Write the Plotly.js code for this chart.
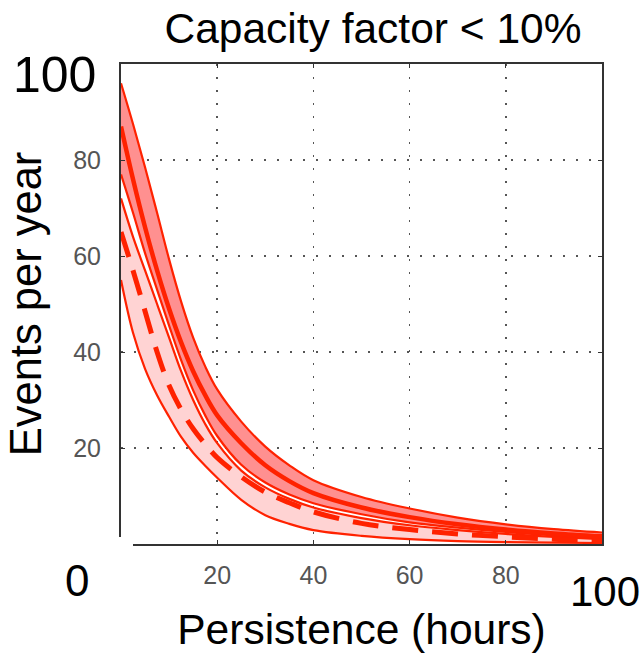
<!DOCTYPE html>
<html>
<head>
<meta charset="utf-8">
<script src="https://cdn.plot.ly/plotly-3.0.1.min.js"></script>
<style>html,body{margin:0;padding:0;background:#fff;}#chart{width:644px;height:654px;}</style>
</head>
<body>
<div id="chart"></div>
<script>
// Persistence (hours)
const persistence = [0, 2.5, 5, 7.5, 10, 12.5, 15, 17.5, 20, 25, 30, 35, 40, 50, 60, 70, 80, 90, 100];
// Upper band (darker fill) edges and solid centre line
const upperBandTop    = [96, 87.5, 78.5, 69, 59.3, 50.5, 43, 37, 32.2, 25.5, 20.3, 16.4, 13.3, 9.8, 7.4, 5.5, 4.1, 3.1, 2.4];
const solidLine       = [87, 76, 66, 57, 49, 42, 36, 31, 26.8, 21, 16.4, 13.1, 10.6, 7.6, 5.6, 4.1, 3.0, 2.2, 1.6];
const upperBandBottom = [77, 69, 60.6, 53, 45.5, 38.3, 32, 26.8, 22.5, 16.5, 12.8, 10.3, 8.5, 6.2, 4.5, 3.4, 2.5, 1.8, 1.2];
// Lower band (light fill) edges and dashed centre line
const lowerBandTop    = [72, 64, 57, 50, 43, 36, 30, 25, 21, 15.3, 11.8, 9.4, 7.6, 5.4, 3.9, 2.9, 2.1, 1.5, 1.0];
const dashedLine      = [65, 57, 48.5, 40, 33, 28, 24, 20.8, 18, 14, 10.8, 8.6, 6.7, 4.3, 3.0, 2.1, 1.5, 1.0, 0.7];
const lowerBandBottom = [55, 44, 36.5, 31, 26.5, 22.3, 19, 16.3, 13.8, 9.2, 6.0, 4.2, 2.9, 1.7, 1.0, 0.6, 0.4, 0.3, 0.2];
const tickValues = [20, 40, 60, 80];
const tickLabels = ['20', '40', '60', '80'];

const RED = '#ff2200';
const edge = {color: RED, width: 2.2, shape: 'spline', smoothing: 1};
const FONT = 'Liberation Sans, Arial, sans-serif';

const traces = [
  {x: persistence, y: lowerBandBottom, mode: 'lines', line: edge, hoverinfo: 'skip', showlegend: false},
  {x: persistence, y: lowerBandTop, mode: 'lines', line: edge, fill: 'tonexty', fillcolor: '#ffd3d3', hoverinfo: 'skip', showlegend: false},
  {x: persistence, y: upperBandBottom, mode: 'lines', line: edge, hoverinfo: 'skip', showlegend: false},
  {x: persistence, y: upperBandTop, mode: 'lines', line: edge, fill: 'tonexty', fillcolor: '#ff9090', hoverinfo: 'skip', showlegend: false},
  {x: persistence, y: dashedLine, mode: 'lines', line: {color: RED, width: 5, dash: '26px,14px', shape: 'spline', smoothing: 1}, showlegend: false},
  {x: persistence, y: solidLine, mode: 'lines', line: {color: RED, width: 4.5, shape: 'spline', smoothing: 1}, showlegend: false}
];

const L = 121, R = 602, T = 64, B = 544;
const px = v => (v - L) / (R - L);
const py = v => (B - v) / (B - T);
const bigFont = {family: FONT, size: 44, color: '#000'};

const axisCommon = {
  range: [0, 100],
  tickvals: tickValues,
  ticktext: tickLabels,
  showgrid: true,
  gridcolor: '#555',
  gridwidth: 1.6,
  griddash: '2px,11px',
  zeroline: false,
  showline: true,
  mirror: 'ticks',
  linecolor: '#333',
  linewidth: 2,
  ticks: 'inside',
  ticklen: 4,
  tickcolor: '#333',
  tickfont: {family: FONT, size: 25, color: '#555'},
  fixedrange: true
};

const layout = {
  width: 644,
  height: 654,
  margin: {l: L, r: 644 - R, t: T, b: 654 - B},
  paper_bgcolor: '#fff',
  plot_bgcolor: '#fff',
  title: {text: 'Capacity factor &lt; 10%', font: {family: FONT, size: 42.5, color: '#000'},
          x: 373 / 644, xanchor: 'center', y: 1 - 28 / 654, yanchor: 'middle'},
  xaxis: Object.assign({}, axisCommon, {
    ticklabelstandoff: 8,
    title: {text: 'Persistence (hours)', font: {family: FONT, size: 42.5, color: '#000'}, standoff: 26}
  }),
  yaxis: Object.assign({}, axisCommon, {
    ticklabelstandoff: 13,
    title: {text: 'Events per year', font: {family: FONT, size: 43.5, color: '#000'}, standoff: 18}
  }),
  shapes: [
    {type: 'rect', xref: 'paper', yref: 'paper', x0: -0.12, x1: px(133), y0: -0.06, y1: py(537),
     fillcolor: '#fff', line: {width: 0}, layer: 'above'}
  ],
  annotations: [
    {text: '100', xref: 'paper', yref: 'paper', x: px(54), y: py(75), xanchor: 'center', yanchor: 'middle', showarrow: false, font: Object.assign({}, bigFont, {size: 50})},
    {text: '0', xref: 'paper', yref: 'paper', x: px(77), y: py(580), xanchor: 'center', yanchor: 'middle', showarrow: false, font: bigFont},
    {text: '100', xref: 'paper', yref: 'paper', x: px(605), y: py(591), xanchor: 'center', yanchor: 'middle', showarrow: false, font: Object.assign({}, bigFont, {size: 42})}
  ]
};

Plotly.newPlot('chart', traces, layout, {displayModeBar: false, staticPlot: true});
</script>
</body>
</html>
